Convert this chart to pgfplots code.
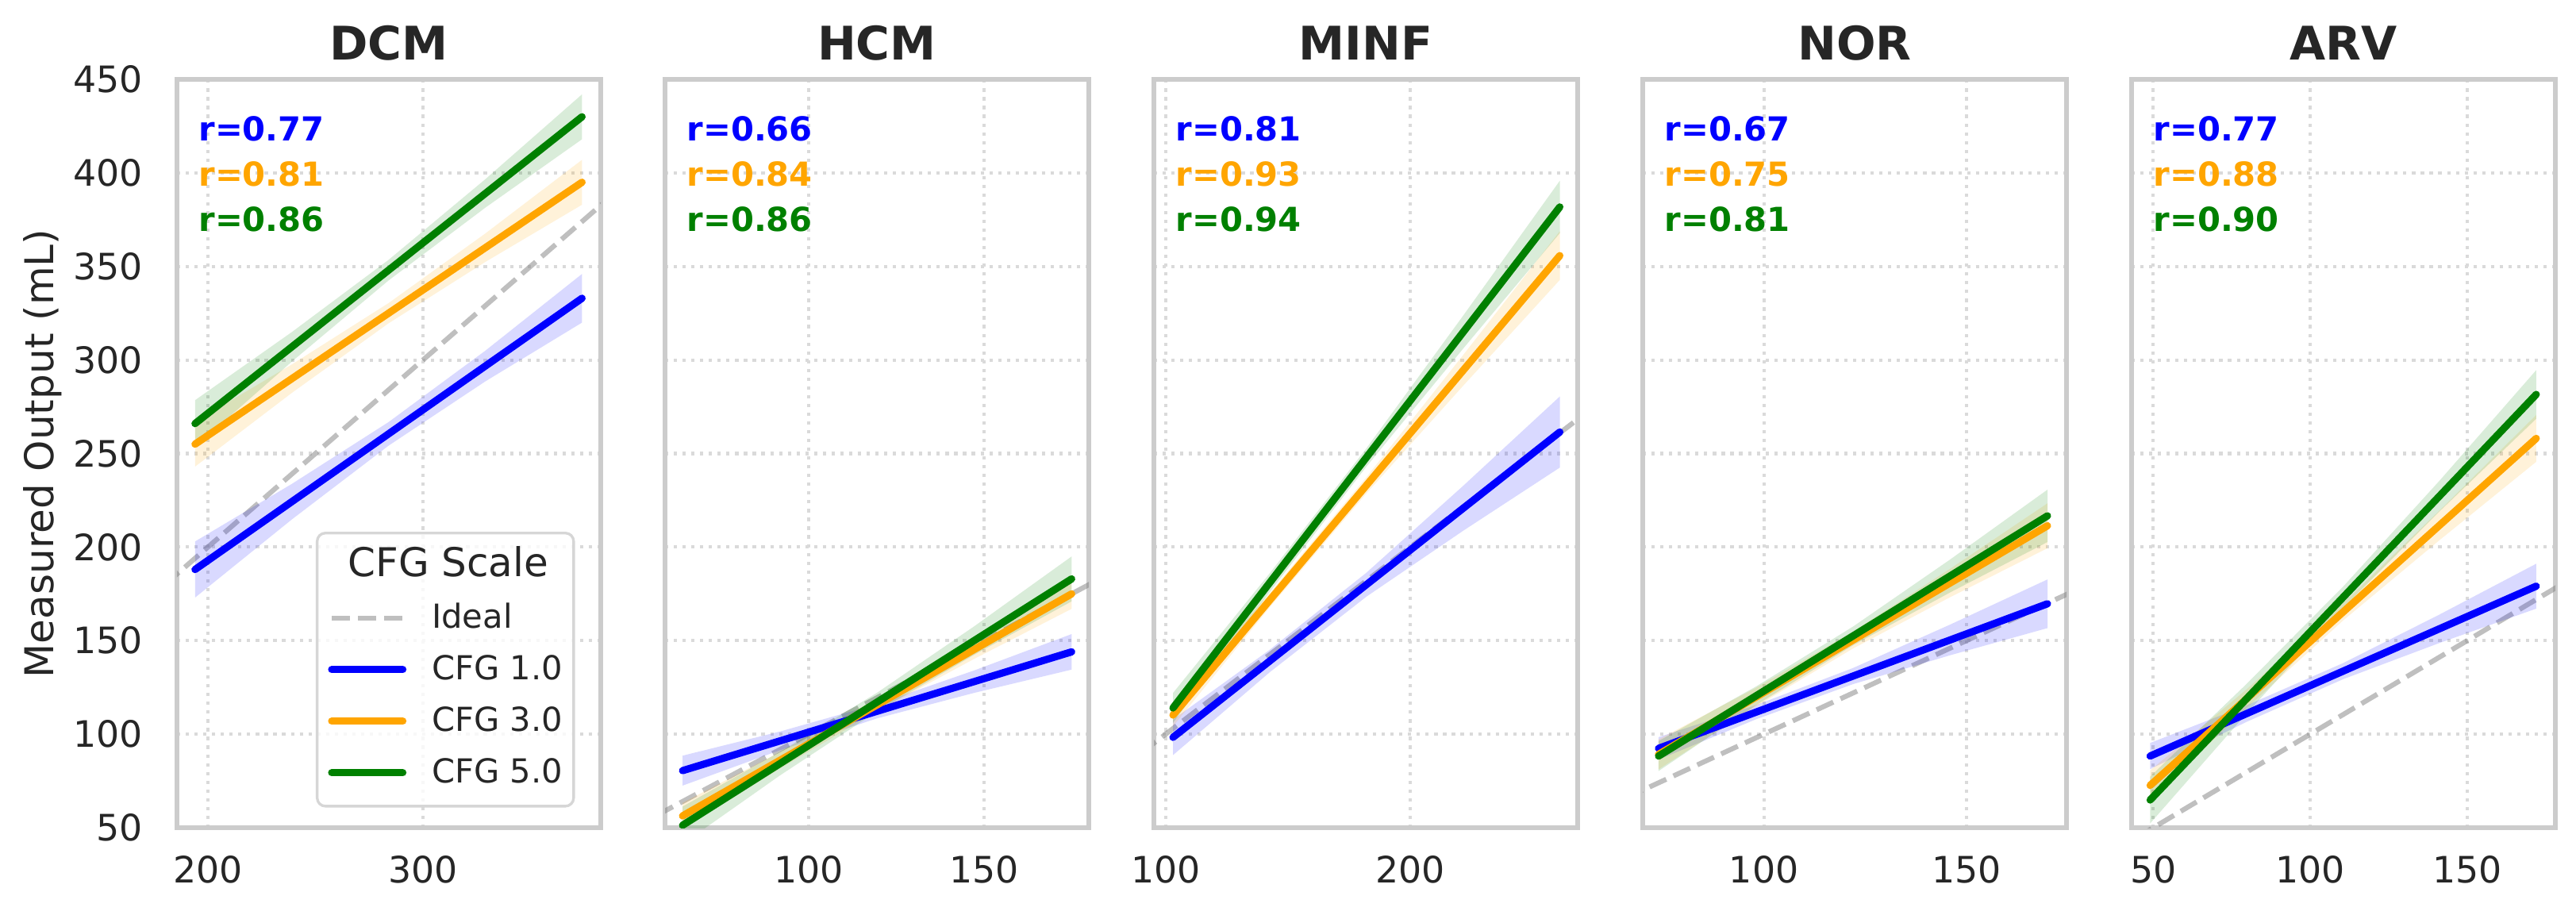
\documentclass[border=0pt]{standalone}
\usepackage{pgfplots}
\pgfplotsset{compat=1.18}
\usepackage{fontspec}
\setmainfont{DejaVu Sans}

\definecolor{cblue}{RGB}{0,0,255}
\definecolor{corange}{RGB}{255,165,0}
\definecolor{cgreen}{RGB}{0,128,0}
\definecolor{tc}{HTML}{262626}
\definecolor{spine}{HTML}{CCCCCC}
\definecolor{gridc}{HTML}{DADADA}
\definecolor{legframe}{HTML}{D6D6D6}

\tikzset{
  rlab/.style={anchor=base west, inner sep=0pt, font=\bfseries\fontsize{10}{12}\selectfont},
}

\pgfplotsset{
  panel/.style={
    scale only axis, width=128.16pt, height=226.32pt,
    anchor=south west,
    ymin=50, ymax=450, ytick={50,100,...,450},
    enlargelimits=false,
    grid=major,
    major grid style={draw=gridc, line width=1pt, dash pattern=on 1pt off 1.65pt},
    axis line style={draw=spine, line width=1.25pt},
    major tick length=0pt,
    tick style={draw=none},
    /pgf/number format/assume math mode=true,
    tick label style={font=\fontsize{11}{13}\selectfont, text=tc},
    xticklabel style={anchor=base, inner sep=0pt, yshift=-16.7pt},
    yticklabel style={anchor=east, inner sep=0pt, xshift=-10.1pt},
    every axis title/.style={at={(0.5,1)}, anchor=base, yshift=5.9pt,
      font=\bfseries\fontsize{14}{17}\selectfont, text=tc},
    clip=true,
  },
  ideal/.style={draw=gray, draw opacity=0.5, line width=1.5pt, dash pattern=on 5.55pt off 2.4pt},
  fitline/.style={draw=#1, line width=2.2pt, line cap=round},
  band/.style={draw=none, fill=#1, fill opacity=0.15, forget plot},
}

\begin{document}
\begin{tikzpicture}
\path[use as bounding box] (0,0) rectangle (779.04pt,276.48pt);

% ---------------- DCM ----------------
\begin{axis}[panel, at={(53.52pt,26.16pt)}, title={DCM},
  xmin=185.6, xmax=382.7, xtick={200,300},
  ylabel={Measured Output (mL)},
  every axis y label/.style={at={(axis description cs:-0.2921,0.5)}, rotate=90, anchor=base,
    font=\fontsize{12}{14}\selectfont, text=tc},
  legend cell align=left,
  legend image code/.code={\draw[#1] (0pt,0pt) -- (21.5pt,0pt);},
  legend style={at={(0.3277,0.3955)}, anchor=north west,
    draw=legframe, line width=0.8pt, rounded corners=2.5pt,
    fill=white, fill opacity=0.8, text opacity=1,
    font=\fontsize{10}{12}\selectfont, text=tc,
    inner xsep=3.3pt, inner ysep=5.1pt, row sep=5.6pt,
    nodes={inner sep=0pt, text height=8pt, text depth=2pt},
    /tikz/every odd column/.append style={column sep=7.7pt}},
]
\addlegendimage{empty legend}
\addlegendentry{\makebox[0pt][l]{\hspace*{-25.9pt}\fontsize{12}{14}\selectfont CFG Scale}}
\addplot[ideal] coordinates {(180,180) (390,390)};
\addlegendentry{Ideal}
\addplot[band=cblue] coordinates {(194,203) (239,233.75) (284,266.8) (329,304.95) (374,346)
  (374,320) (329,288.55) (284,254.2) (239,214.75) (194,173)};
\addplot[band=corange] coordinates {(194,267) (239,297.6) (284,330.4) (329,367.6) (374,407)
  (374,383) (329,352.4) (284,319.6) (239,282.4) (194,243)};
\addplot[band=cgreen] coordinates {(194,278.5) (239,314.9) (284,353.5) (329,396.6) (374,442)
  (374,418) (329,381.4) (284,342.5) (239,299.1) (194,253.5)};
\addplot[fitline=cblue] coordinates {(194,188) (374,333)};
\addlegendentry{CFG 1.0}
\addplot[fitline=corange] coordinates {(194,255) (374,395)};
\addlegendentry{CFG 3.0}
\addplot[fitline=cgreen] coordinates {(194,266) (374,430)};
\addlegendentry{CFG 5.0}
\node[rlab, text=cblue]   at (rel axis cs:0.05,0.9173) {r=0.77};
\node[rlab, text=corange] at (rel axis cs:0.05,0.8572) {r=0.81};
\node[rlab, text=cgreen]  at (rel axis cs:0.05,0.7971) {r=0.86};
\end{axis}

% ---------------- HCM ----------------
\begin{axis}[panel, at={(201.12pt,26.16pt)}, title={HCM},
  xmin=59.0, xmax=179.9, xtick={100,150}, yticklabels={}]
\addplot[ideal] coordinates {(50,50) (190,190)};
\addplot[band=cblue] coordinates {(64,88.5) (91.75,101.4) (119.5,116.05) (147.25,134.1) (175,153.5)
  (175,134.5) (147.25,122.1) (119.5,108.45) (91.75,91.4) (64,72.5)};
\addplot[band=corange] coordinates {(64,63.3) (91.75,90.4) (119.5,119.05) (147.25,150.3) (175,183)
  (175,167) (147.25,140.3) (119.5,112.25) (91.75,81.6) (64,49.3)};
\addplot[band=cgreen] coordinates {(64,61.3) (91.75,90.5) (119.5,122.15) (147.25,157.7) (175,195)
  (175,171) (147.25,142.5) (119.5,112.15) (91.75,77.9) (64,41.3)};
\addplot[fitline=cblue] coordinates {(64,80.5) (175,144)};
\addplot[fitline=corange] coordinates {(64,56.3) (175,175)};
\addplot[fitline=cgreen] coordinates {(64,51.3) (175,183)};
\node[rlab, text=cblue]   at (rel axis cs:0.05,0.9173) {r=0.66};
\node[rlab, text=corange] at (rel axis cs:0.05,0.8572) {r=0.84};
\node[rlab, text=cgreen]  at (rel axis cs:0.05,0.7971) {r=0.86};
\end{axis}

% ---------------- MINF ----------------
\begin{axis}[panel, at={(348.96pt,26.16pt)}, title={MINF},
  xmin=95.2, xmax=268.3, xtick={100,200}, yticklabels={}]
\addplot[ideal] coordinates {(90,90) (280,280)};
\addplot[band=cblue] coordinates {(103,107.8) (142.5,145.1) (182,186.3) (221.5,232.7) (261,280.5)
  (261,242.5) (221.5,208.7) (182,173.5) (142.5,133.1) (103,88.8)};
\addplot[band=corange] coordinates {(103,116.2) (142.5,175.4) (182,237.3) (221.5,302.6) (261,368.8)
  (261,342.8) (221.5,286.2) (182,228.7) (142.5,167.8) (103,104.2)};
\addplot[band=cgreen] coordinates {(103,122) (142.5,185.95) (182,252.8) (221.5,323.65) (261,395.8)
  (261,367.8) (221.5,306.05) (182,243) (142.5,175.95) (103,106)};
\addplot[fitline=cblue] coordinates {(103,98.3) (261,261.5)};
\addplot[fitline=corange] coordinates {(103,110.2) (261,355.8)};
\addplot[fitline=cgreen] coordinates {(103,114) (261,381.8)};
\node[rlab, text=cblue]   at (rel axis cs:0.05,0.9173) {r=0.81};
\node[rlab, text=corange] at (rel axis cs:0.05,0.8572) {r=0.93};
\node[rlab, text=cgreen]  at (rel axis cs:0.05,0.7971) {r=0.94};
\end{axis}

% ---------------- NOR ----------------
\begin{axis}[panel, at={(496.8pt,26.16pt)}, title={NOR},
  xmin=70.1, xmax=174.7, xtick={100,150}, yticklabels={}]
\addplot[ideal] coordinates {(60,60) (190,190)};
\addplot[band=cblue] coordinates {(74,98.4) (98,115.5) (122,135.35) (146,158.6) (170,182.7)
  (170,156.7) (146,142.2) (122,126.75) (98,107.9) (74,86.4)};
\addplot[band=corange] coordinates {(74,97.2) (98,124.75) (122,154.8) (146,188.45) (170,223.4)
  (170,199.4) (146,173.25) (122,145.8) (98,114.75) (74,81.2)};
\addplot[band=cgreen] coordinates {(74,96.3) (98,125.4) (122,157.5) (146,193.4) (170,230.7)
  (170,202.7) (146,175.8) (122,147.5) (98,115.4) (74,80.3)};
\addplot[fitline=cblue] coordinates {(74,92.4) (170,169.7)};
\addplot[fitline=corange] coordinates {(74,89.2) (170,211.4)};
\addplot[fitline=cgreen] coordinates {(74,88.3) (170,216.7)};
\node[rlab, text=cblue]   at (rel axis cs:0.05,0.9173) {r=0.67};
\node[rlab, text=corange] at (rel axis cs:0.05,0.8572) {r=0.75};
\node[rlab, text=cgreen]  at (rel axis cs:0.05,0.7971) {r=0.81};
\end{axis}

% ---------------- ARV ----------------
\begin{axis}[panel, at={(644.64pt,26.16pt)}, title={ARV},
  xmin=43.1, xmax=178.1, xtick={50,100,150}, yticklabels={}]
\addplot[ideal] coordinates {(30,30) (190,190)};
\addplot[band=cblue] coordinates {(49,95.3) (79.75,115.4) (110.5,138) (141.25,164) (172,191.1)
  (172,167.1) (141.25,148.8) (110.5,129.4) (79.75,106.6) (49,81.3)};
\addplot[band=corange] coordinates {(49,80.6) (79.75,124) (110.5,170) (141.25,219.6) (172,270.6)
  (172,245.6) (141.25,203.8) (110.5,160.8) (79.75,114) (49,64.6)};
\addplot[band=cgreen] coordinates {(49,77.3) (79.75,126.9) (110.5,178.9) (141.25,235.6) (172,294.6)
  (172,268.6) (141.25,219.2) (110.5,167.5) (79.75,111.1) (49,52.3)};
\addplot[fitline=cblue] coordinates {(49,88.3) (172,179.1)};
\addplot[fitline=corange] coordinates {(49,72.6) (172,258.1)};
\addplot[fitline=cgreen] coordinates {(49,64.8) (172,281.6)};
\node[rlab, text=cblue]   at (rel axis cs:0.05,0.9173) {r=0.77};
\node[rlab, text=corange] at (rel axis cs:0.05,0.8572) {r=0.88};
\node[rlab, text=cgreen]  at (rel axis cs:0.05,0.7971) {r=0.90};
\end{axis}
\end{tikzpicture}
\end{document}
